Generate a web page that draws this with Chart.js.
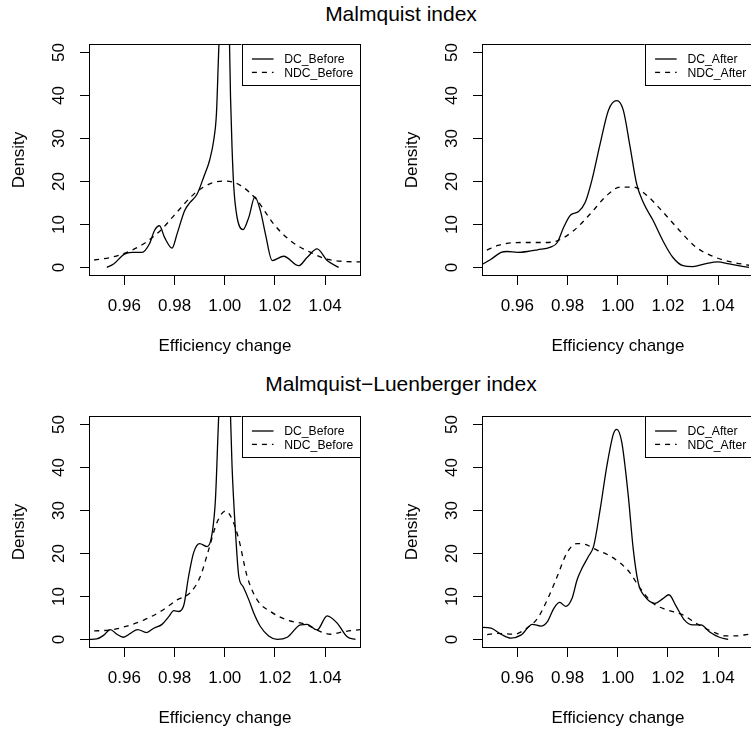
<!DOCTYPE html>
<html>
<head>
<meta charset="utf-8">
<script src="https://cdn.jsdelivr.net/npm/chart.js@4.4.1/dist/chart.umd.min.js"></script>
<style>
  html, body { margin: 0; padding: 0; background: #fff; overflow: hidden; width: 751px; height: 732px; }
  canvas { position: absolute; }
  .otitle { position: absolute; left: 0; width: 802px; text-align: center; font-family: "Liberation Sans", Arial, sans-serif; font-size: 21px; line-height: 21px; color: #000; white-space: nowrap; }
</style>
</head>
<body>
<div class="otitle" style="top:3px">Malmquist index</div>
<div class="otitle" style="top:373px">Malmquist−Luenberger index</div>
<canvas id="c1" width="376" height="366" style="left:0px;top:0px"></canvas>
<canvas id="c2" width="376" height="366" style="left:393px;top:0px"></canvas>
<canvas id="c3" width="376" height="366" style="left:0px;top:372px"></canvas>
<canvas id="c4" width="376" height="366" style="left:393px;top:372px"></canvas>
<script>
// ---- tick values / labels ----
const xTicks = [0.96, 0.98, 1.00, 1.02, 1.04];
const xTickLabels = ["0.96", "0.98", "1.00", "1.02", "1.04"];
const yTicks = [0, 10, 20, 30, 40, 50];
const yTickLabels = ["0", "10", "20", "30", "40", "50"];
const xTitle = "Efficiency change";
const yTitle = "Density";

// ---- Malmquist index: Before ----
const mDcBeforeX = [0.9530, 0.9557, 0.9600, 0.9630, 0.9670, 0.9700, 0.9720, 0.9740, 0.9760, 0.9790, 0.9810, 0.9840, 0.9860, 0.9890, 0.9916, 0.9940, 0.9956, 0.9967, 0.9977, 0.9990, 1.0000, 1.0010, 1.0019, 1.0023, 1.0029, 1.0036, 1.0049, 1.0073, 1.0096, 1.0120, 1.0142, 1.0162, 1.0189, 1.0235, 1.0295, 1.0328, 1.0368, 1.0408, 1.0454];
const mDcBeforeY = [0, 0.8, 3.1, 3.5, 3.5, 5.5, 8.6, 9.7, 7.0, 4.5, 7.8, 13.2, 15.0, 17.1, 21.0, 25.0, 29.6, 35.9, 52, 64, 67, 63, 52, 39.7, 28, 18.7, 11.7, 8.8, 11.7, 16.4, 13.2, 7.8, 1.6, 2.6, 0.4, 2.3, 4.3, 1.6, 0];
const mNdcBeforeX = [0.9440, 0.9464, 0.9544, 0.9610, 0.9677, 0.9744, 0.9810, 0.9876, 0.9943, 1.0003, 1.0062, 1.0129, 1.0195, 1.0262, 1.0342, 1.0408, 1.0474, 1.0541, 1.0560];
const mNdcBeforeY = [1.4, 1.6, 2.3, 3.5, 5.5, 8.6, 12.9, 17.0, 19.5, 20.1, 19.1, 15.6, 10.1, 6.2, 3.5, 1.9, 1.4, 1.3, 1.3];

// ---- Malmquist index: After ----
const mDcAfterX = [0.9440, 0.9462, 0.9495, 0.9535, 0.9560, 0.9600, 0.9640, 0.9680, 0.9732, 0.9759, 0.9785, 0.9812, 0.9844, 0.9871, 0.9897, 0.9930, 0.9963, 0.9996, 1.0022, 1.0049, 1.0075, 1.0101, 1.0141, 1.0180, 1.0220, 1.0260, 1.0299, 1.0352, 1.0398, 1.0444, 1.0523];
const mDcAfterY = [0.3, 0.8, 1.9, 3.5, 3.7, 3.5, 3.7, 4.1, 4.7, 5.8, 9.4, 12.2, 13.0, 15.2, 20.3, 28.8, 36.6, 38.8, 36.6, 28.1, 19.5, 15.2, 10.9, 6.2, 2.3, 0.4, 0.2, 0.9, 1.3, 0.8, 0];
const mNdcAfterX = [0.9440, 0.9462, 0.9522, 0.9574, 0.9640, 0.9706, 0.9759, 0.9825, 0.9891, 0.9957, 1.0009, 1.0062, 1.0115, 1.0180, 1.0246, 1.0312, 1.0391, 1.0457, 1.0523];
const mNdcAfterY = [3.5, 3.7, 5.1, 5.7, 5.8, 5.8, 6.2, 8.6, 12.5, 16.8, 18.7, 18.7, 16.8, 12.9, 8.6, 4.7, 2.3, 1.2, 0.5];

// ---- Malmquist-Luenberger index: Before ----
const mlDcBeforeX = [0.9462, 0.9490, 0.9518, 0.9544, 0.9570, 0.9596, 0.9624, 0.9653, 0.9688, 0.9717, 0.9750, 0.9777, 0.9797, 0.9817, 0.9837, 0.9856, 0.9876, 0.9900, 0.9930, 0.9950, 0.9963, 0.9976, 0.9990, 1.0000, 1.0012, 1.0023, 1.0029, 1.0043, 1.0056, 1.0073, 1.0096, 1.0116, 1.0142, 1.0175, 1.0209, 1.0249, 1.0302, 1.0328, 1.0368, 1.0408, 1.0448, 1.0488, 1.0521];
const mlDcBeforeY = [0, 0.1, 1.0, 2.3, 1.2, 0.5, 1.4, 2.3, 1.6, 2.6, 3.5, 5.3, 6.7, 6.5, 8.0, 14.7, 20.2, 22.3, 21.6, 24.8, 32.7, 52, 66, 70, 66, 52, 40.5, 24.8, 14.7, 12.3, 9.2, 6.1, 3.0, 0.8, 0, 0.5, 3.4, 3.5, 2.2, 5.5, 3.8, 0.6, 0];
const mlNdcBeforeX = [0.9440, 0.9462, 0.9544, 0.9610, 0.9677, 0.9744, 0.9810, 0.9863, 0.9903, 0.9936, 0.9969, 1.0003, 1.0029, 1.0056, 1.0089, 1.0129, 1.0182, 1.0249, 1.0328, 1.0381, 1.0421, 1.0474, 1.0541, 1.0560];
const mlNdcBeforeY = [2.0, 2.0, 2.2, 3.1, 4.5, 6.5, 9.2, 10.9, 14.7, 20.9, 27.2, 29.9, 28.0, 23.3, 14.7, 9.2, 6.5, 4.5, 3.4, 1.8, 1.2, 1.8, 2.3, 2.4];

// ---- Malmquist-Luenberger index: After ----
const mlDcAfterX = [0.9440, 0.9462, 0.9495, 0.9535, 0.9574, 0.9614, 0.9660, 0.9693, 0.9719, 0.9746, 0.9769, 0.9792, 0.9818, 0.9838, 0.9858, 0.9884, 0.9904, 0.9930, 0.9957, 0.9983, 0.9996, 1.0016, 1.0042, 1.0062, 1.0082, 1.0108, 1.0148, 1.0180, 1.0204, 1.0233, 1.0266, 1.0299, 1.0332, 1.0365, 1.0405, 1.0440];
const mlDcAfterY = [2.8, 2.8, 2.6, 1.2, 0.3, 1.0, 3.5, 3.1, 4.1, 7.3, 8.6, 7.7, 9.6, 13.9, 16.6, 19.4, 21.7, 30.3, 40.5, 47.9, 48.9, 45.9, 33.4, 20.9, 13.1, 10.0, 8.4, 9.5, 10.4, 7.7, 4.5, 3.4, 3.4, 1.8, 0.5, 0];
const mlNdcAfterX = [0.9440, 0.9462, 0.9522, 0.9587, 0.9627, 0.9680, 0.9719, 0.9759, 0.9798, 0.9838, 0.9871, 0.9917, 0.9970, 1.0009, 1.0049, 1.0088, 1.0141, 1.0194, 1.0260, 1.0312, 1.0378, 1.0431, 1.0471, 1.0523, 1.0560];
const mlNdcAfterY = [0.9, 1.0, 1.4, 1.2, 2.2, 4.9, 9.2, 14.7, 20.2, 22.3, 22.1, 20.8, 19.4, 17.8, 15.5, 12.0, 8.4, 6.9, 5.7, 3.75, 1.8, 0.8, 0.8, 1.2, 1.4];

const X_MIN = 0.9459, X_MAX = 1.0543, Y_MIN = -2, Y_MAX = 52;
const FONT = '"Liberation Sans", Arial, Helvetica, sans-serif';
const DASH = [5, 5];

const rBase = {
  id: 'rBase',
  afterDraw(chart) {
    const { ctx, chartArea: a, scales: { y } } = chart;
    ctx.save();
    ctx.strokeStyle = '#000';
    ctx.lineWidth = 1;
    ctx.setLineDash([]);
    const L = Math.round(a.left) + 0.5, T = Math.round(a.top) + 0.5,
          R = Math.round(a.right) - 0.5, B = Math.round(a.bottom) - 0.5;
    ctx.strokeRect(L, T, R - L, B - T);
    // y tick labels (rotated, R style)
    ctx.fillStyle = '#000';
    ctx.font = '17px ' + FONT;
    ctx.textAlign = 'center';
    ctx.textBaseline = 'alphabetic';
    y.ticks.forEach((t, i) => {
      const py = y.getPixelForValue(t.value);
      ctx.save();
      ctx.translate(a.left - 25, py);
      ctx.rotate(-Math.PI / 2);
      ctx.fillText(yTickLabels[i], 0, 0);
      ctx.restore();
    });
    // legend (top right, inside the box)
    ctx.font = '12.2px ' + FONT;
    const ds = chart.data.datasets;
    const tw = Math.max(...ds.map(d => ctx.measureText(d.label).width));
    const w = 42.7 + tw + 7.7, h = 41;
    const bx = a.right - w, by = a.top;
    ctx.fillStyle = '#fff';
    ctx.fillRect(bx, by, w, h);
    ctx.strokeRect(Math.round(bx) + 0.5, T, R - Math.round(bx) - 0.5, h);
    ds.forEach((d, i) => {
      const ry = by + 15 + i * 13.4;
      ctx.beginPath();
      ctx.lineWidth = 1.3;
      ctx.setLineDash(d.borderDash || []);
      ctx.moveTo(bx + 10.4, ry);
      ctx.lineTo(bx + 32, ry);
      ctx.stroke();
      ctx.setLineDash([]);
      ctx.fillStyle = '#000';
      ctx.textAlign = 'left';
      ctx.fillText(d.label, bx + 42.7, ry + 4.3);
    });
    ctx.restore();
  }
};

function series(label, xs, ys, dash) {
  return {
    label: label,
    data: xs.map((x, i) => ({ x: x, y: ys[i] })),
    borderColor: '#000',
    borderWidth: 1.3,
    borderDash: dash,
    pointRadius: 0,
    fill: false,
    cubicInterpolationMode: 'monotone'
  };
}

function makeChart(id, datasets) {
  const gridOpts = { display: true, drawOnChartArea: false, drawTicks: true, tickLength: 9, color: '#000', lineWidth: 1 };
  return new Chart(document.getElementById(id), {
    type: 'line',
    data: { datasets: datasets },
    options: {
      responsive: false,
      animation: false,
      devicePixelRatio: 1,
      layout: { padding: { top: 44, right: 15, left: 0, bottom: 0 } },
      plugins: { legend: { display: false }, tooltip: { enabled: false }, title: { display: false } },
      scales: {
        x: {
          type: 'linear', min: X_MIN, max: X_MAX,
          afterBuildTicks: s => { s.ticks = xTicks.map(v => ({ value: v })); },
          afterFit: s => { s.height = 90; },
          grid: gridOpts,
          border: { display: false },
          ticks: { padding: 11, autoSkip: false, maxRotation: 0, color: '#000', font: { family: FONT, size: 17 },
                   callback: (v, i) => xTickLabels[i] },
          title: { display: true, text: xTitle, color: '#000', font: { family: FONT, size: 17 }, padding: { top: 0, bottom: 9 } }
        },
        y: {
          type: 'linear', min: Y_MIN, max: Y_MAX,
          afterBuildTicks: s => { s.ticks = yTicks.map(v => ({ value: v })); },
          afterFit: s => { s.width = 89; },
          grid: gridOpts,
          border: { display: false },
          ticks: { display: false },
          title: { display: true, text: yTitle, color: '#000', font: { family: FONT, size: 17 }, padding: { top: 9, bottom: 0 } }
        }
      }
    },
    plugins: [rBase]
  });
}

makeChart('c1', [series('DC_Before', mDcBeforeX, mDcBeforeY, []), series('NDC_Before', mNdcBeforeX, mNdcBeforeY, DASH)]);
makeChart('c2', [series('DC_After', mDcAfterX, mDcAfterY, []), series('NDC_After', mNdcAfterX, mNdcAfterY, DASH)]);
makeChart('c3', [series('DC_Before', mlDcBeforeX, mlDcBeforeY, []), series('NDC_Before', mlNdcBeforeX, mlNdcBeforeY, DASH)]);
makeChart('c4', [series('DC_After', mlDcAfterX, mlDcAfterY, []), series('NDC_After', mlNdcAfterX, mlNdcAfterY, DASH)]);
</script>
</body>
</html>
